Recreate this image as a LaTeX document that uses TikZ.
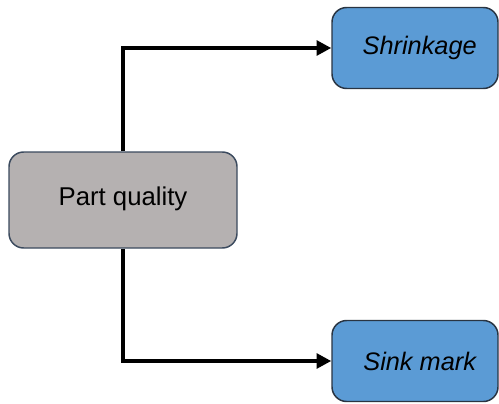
\documentclass[tikz,border=0pt]{standalone}
\usepackage{fontspec}
\setmainfont{Liberation Sans}
\usetikzlibrary{arrows.meta}
\definecolor{boxgray}{HTML}{B5B1B1}
\definecolor{boxblue}{HTML}{5B9BD5}
\definecolor{edgeslate}{HTML}{3B4A5E}
\tikzset{
  px/.style={x=0.75pt,y=-0.75pt},
  causebox/.style={draw=edgeslate,line width=1.1pt,rounded corners=11pt,fill=boxgray,
    minimum width=228*0.75pt,minimum height=96*0.75pt,inner sep=0pt,
    font=\fontsize{19.3}{22}\selectfont},
  effectbox/.style={draw=edgeslate!70!black,line width=1.1pt,rounded corners=11pt,fill=boxblue,
    minimum width=166*0.75pt,minimum height=81*0.75pt,inner sep=0pt,
    font=\fontsize{19}{22}\selectfont\itshape},
  link/.style={line width=2.8pt,-{Triangle[length=11pt,width=11pt]}}
}
\begin{document}
\begin{tikzpicture}[px]
\useasboundingbox (0,0) rectangle (499,403);
\node[causebox] (pq) at (123,200) {\raisebox{5pt}{Part quality}};
\node[effectbox] (sh) at (415,48) {\hspace{7pt}Shrinkage};
\node[effectbox] (sm) at (415,361) {\hspace{7pt}Sink mark};
\draw[link] (pq.north) |- (sh.west);
\draw[link] (pq.south) |- (sm.west);
\end{tikzpicture}
\end{document}
